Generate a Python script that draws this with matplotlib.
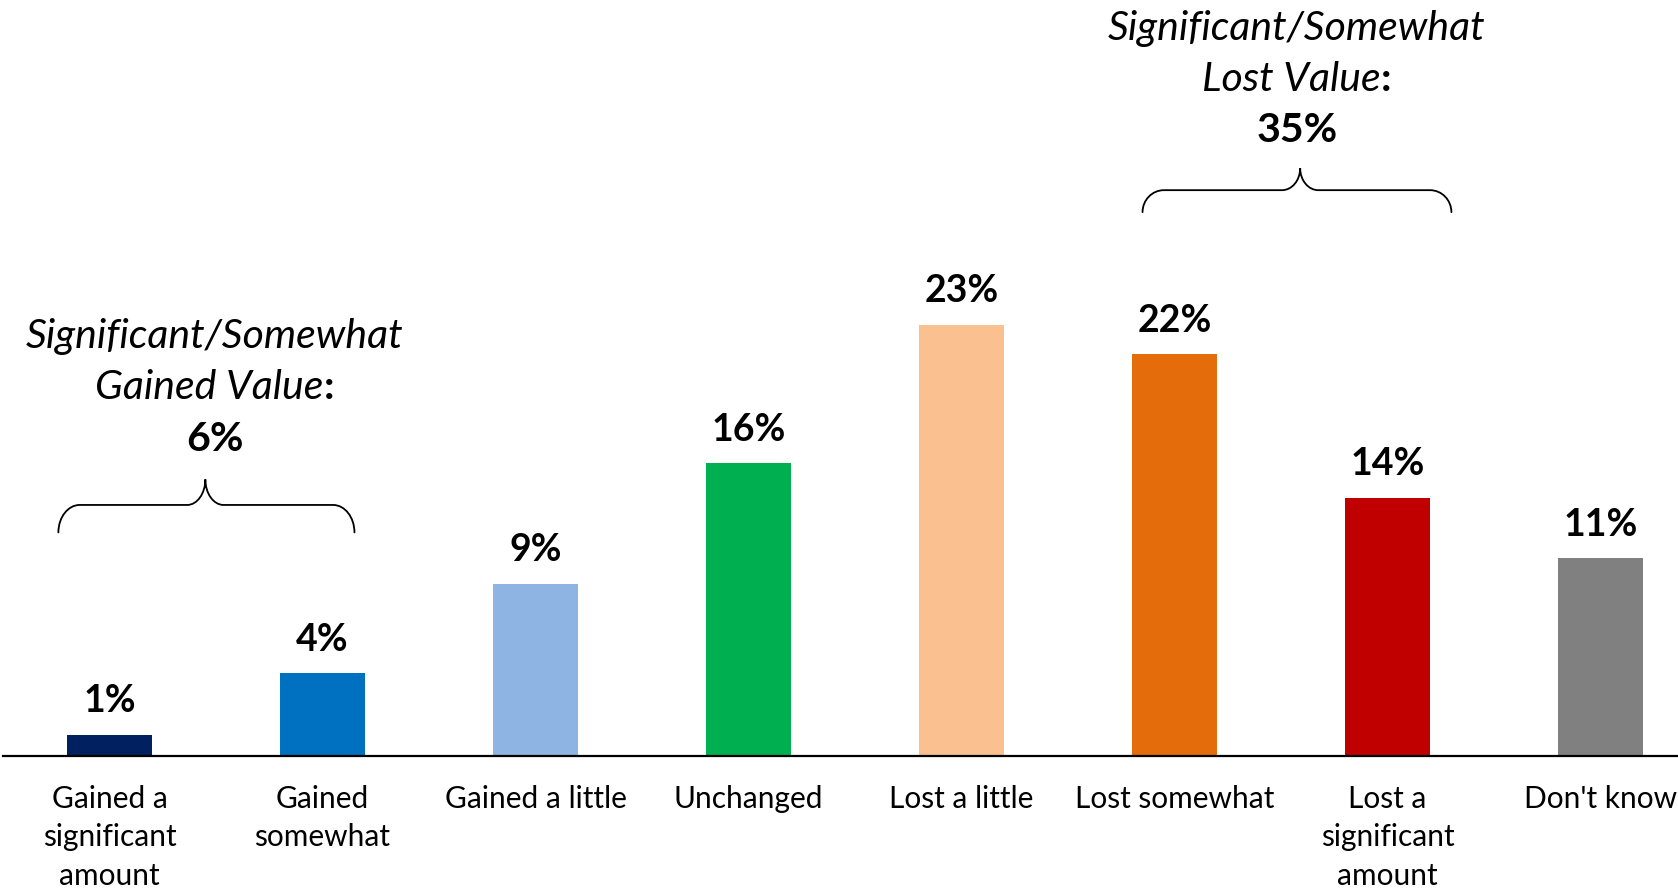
import matplotlib
matplotlib.use("Agg")
import matplotlib.pyplot as plt
from matplotlib.path import Path
from matplotlib.patches import PathPatch
import matplotlib.transforms as mtransforms

categories = ["Gained a\nsignificant\namount", "Gained\nsomewhat", "Gained a little",
              "Unchanged", "Lost a little", "Lost somewhat",
              "Lost a\nsignificant\namount", "Don't know"]
# bar heights; printed labels are the rounded percentages
values = [1.15, 4.5, 9.4, 16.0, 23.55, 21.95, 14.1, 10.8]
labels = ["1%", "4%", "9%", "16%", "23%", "22%", "14%", "11%"]
colors = ["#002060", "#0070C0", "#8EB4E3", "#00B050", "#FAC090", "#E46C0A", "#C00000", "#808080"]

gain_title = ["Significant/Somewhat", "Gained Value"]
gain_total = "6%"
lost_title = ["Significant/Somewhat", "Lost Value"]
lost_total = "35%"

plt.rcParams['font.family'] = ['Lato', 'DejaVu Sans']

fig = plt.figure(figsize=(16.78, 8.88), dpi=100)
ax = fig.add_axes([3 / 1678, 0.149, 1704 / 1678, 0.845])
x = list(range(len(values)))
ax.bar(x, values, width=0.40, color=colors, zorder=2)
ax.set_xlim(-0.5, 7.5)
ax.set_ylim(0, 41)
for s in ["top", "left", "right"]:
    ax.spines[s].set_visible(False)
ax.spines["bottom"].set_linewidth(1.6)
ax.spines["bottom"].set_color("black")
ax.set_yticks([])
ax.set_xticks(x)
ax.set_xticklabels(categories, fontsize=21.5, linespacing=1.45, color="black")
ax.tick_params(axis="x", length=0, pad=21)

for xi, v, lab in zip(x, values, labels):
    ax.annotate(lab, (xi, v), xytext=(0, 16), textcoords="offset points",
                ha="center", va="baseline", fontsize=27, fontweight="bold", color="black")


def brace(ax, x0, x1, xt, yb, yh, yt, rx, rt):
    k = 0.55
    verts = [
        (x0, yb),
        (x0, yb + k * (yh - yb)), (x0 + (1 - k) * rx, yh), (x0 + rx, yh),
        (xt - rt, yh),
        (xt - (1 - k) * rt, yh), (xt, yt - k * (yt - yh)), (xt, yt),
        (xt, yt - k * (yt - yh)), (xt + (1 - k) * rt, yh), (xt + rt, yh),
        (x1 - rx, yh),
        (x1 - (1 - k) * rx, yh), (x1, yb + k * (yh - yb)), (x1, yb),
    ]
    codes = [Path.MOVETO,
             Path.CURVE4, Path.CURVE4, Path.CURVE4,
             Path.LINETO,
             Path.CURVE4, Path.CURVE4, Path.CURVE4,
             Path.CURVE4, Path.CURVE4, Path.CURVE4,
             Path.LINETO,
             Path.CURVE4, Path.CURVE4, Path.CURVE4]
    ax.add_patch(PathPatch(Path(verts, codes), fill=False, lw=1.3, color="black",
                           clip_on=False, capstyle="round"))


brace(ax, -0.24, 1.15, 0.45, 12.2, 13.7, 15.1, 0.10, 0.085)
brace(ax, 4.85, 6.30, 5.59, 29.7, 30.9, 32.1, 0.10, 0.085)

fig.canvas.draw()
renderer = fig.canvas.get_renderer()


def annot(xc, ys, title, total):
    fs = 29.5
    ax.text(xc, ys[0], title[0], ha="center", va="center", fontsize=fs,
            style="italic", color="black")
    t1 = ax.text(xc, ys[1], title[1], ha="right", va="center", fontsize=fs,
                 style="italic", color="black")
    t2 = ax.text(xc, ys[1], ":", ha="left", va="center", fontsize=fs,
                 fontweight="bold", color="black")
    w1 = t1.get_window_extent(renderer).width
    w2 = t2.get_window_extent(renderer).width
    shift = (w1 - w2) / 2.0
    tr = mtransforms.offset_copy(ax.transData, fig=fig, x=shift * 72 / fig.dpi, y=0, units="points")
    t1.set_transform(tr)
    t2.set_transform(tr)
    ax.text(xc, ys[2], total, ha="center", va="center", fontsize=fs,
            fontweight="bold", color="black")


annot(0.495, [22.9, 20.1, 17.3], gain_title, gain_total)
annot(5.575, [39.75, 36.95, 34.15], lost_title, lost_total)

fig.savefig("out.png", dpi=100)
